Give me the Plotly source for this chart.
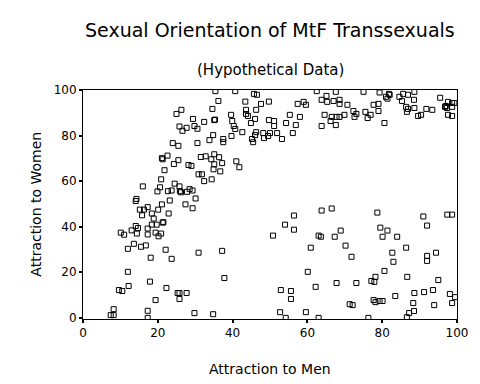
import plotly.graph_objects as go

title_text = "Sexual Orientation of MtF Transsexuals"
subtitle_text = "(Hypothetical Data)"
x_label = "Attraction to Men"
y_label = "Attraction to Women"
tick_vals = [0, 20, 40, 60, 80, 100]

attraction_to_men = [
    25.0, 26.3, 29.4, 32.4, 25.8, 27.7, 26.6, 29.8, 30.6, 24.0, 25.5, 30.6, 21.1, 21.3, 22.6, 25.5, 24.3, 31.5,
    28.2, 29.0, 21.8, 30.9, 31.8, 32.4, 20.9, 24.5, 25.8, 16.0, 20.6, 19.9, 22.7, 23.7, 25.9, 26.2, 27.8, 28.5,
    29.3, 14.3, 14.1, 30.1, 21.1, 23.2, 27.4,
    29.3, 15.2, 16.3, 17.3, 15.8, 18.4, 18.9, 20.1, 22.9, 14.1, 14.7, 17.3, 18.4, 19.7, 21.3, 21.5, 10.1, 11.0,
    13.0, 14.4, 17.3, 19.4, 20.2, 20.9, 12.0, 13.6, 15.5, 16.8, 22.1, 30.9, 18.1, 23.7, 12.0, 17.9, 12.2, 9.6,
    10.5, 22.3, 25.3, 25.8, 27.7, 25.8, 19.4, 8.2, 7.4, 8.2, 17.3, 17.3, 29.8,
    35.4, 40.7, 45.7, 46.5, 36.2, 43.4, 49.7, 47.6, 34.6, 43.6, 43.6, 46.3, 44.1, 39.6, 35.1, 35.3, 39.9, 40.3,
    40.7, 46.0, 44.9, 49.7, 51.1, 51.1, 42.6, 39.7, 34.8, 33.8, 37.5, 37.5, 46.3, 46.0, 48.2, 48.4, 49.5, 50.0,
    51.9, 53.2, 45.2, 45.5, 56.1, 54.3, 56.9, 55.3, 58.0, 57.4, 59.0, 59.6, 62.5, 63.8, 65.3, 65.1, 64.6, 63.8,
    35.1, 32.8, 34.3, 36.4, 35.1, 37.2, 41.0, 41.8, 34.9, 36.7, 34.4,
    67.6, 75.0, 79.3, 81.8, 82.0, 81.0, 81.4, 84.6, 85.6, 86.9, 85.3, 88.6, 88.5, 67.0, 68.6, 68.6, 70.7, 77.7,
    79.0, 79.0, 95.5, 97.6, 98.7, 99.3, 97.0, 97.3, 96.8, 98.7, 97.6, 98.7, 86.4, 86.9, 86.6, 88.6, 91.8, 93.4,
    89.6, 90.4, 80.6, 72.3, 73.1, 72.6, 75.5, 76.9, 76.1, 66.5, 67.8, 68.6, 69.9, 66.2, 67.6,
    37.2, 37.8, 34.8, 50.8, 54.0, 56.4, 56.4, 63.8, 63.0, 63.6, 60.9, 60.1, 62.2, 52.9, 55.6, 55.6, 52.7, 54.2,
    59.6, 63.0,
    66.5, 78.7, 91.0, 97.4, 98.7, 92.0, 68.9, 67.3, 79.5, 81.4, 80.1, 84.0, 70.2, 71.8, 82.7, 83.0, 86.4, 92.0,
    92.0, 94.4, 80.6, 67.8, 73.1, 77.1, 77.9, 78.2, 86.7, 95.0, 88.6, 91.2, 93.6, 98.1, 99.5, 83.5, 77.7, 78.2,
    79.3, 80.1, 71.3, 72.1, 88.3, 93.9, 98.7, 88.5, 87.2, 86.6, 76.3,
]

attraction_to_women = [
    89.5, 91.3, 87.3, 86.0, 84.0, 83.4, 82.1, 84.2, 83.0, 76.7, 75.5, 76.7, 70.1, 69.6, 71.2, 69.2, 67.5, 70.6,
    67.1, 66.7, 64.8, 63.0, 63.0, 60.0, 60.8, 58.9, 57.7, 57.7, 57.3, 55.5, 55.6, 55.9, 55.6, 55.1, 55.3, 56.5,
    55.9, 52.2, 51.3, 52.4, 49.8, 51.5, 49.8,
    48.1, 47.5, 47.5, 48.6, 45.0, 45.8, 43.6, 47.5, 45.8, 40.3, 39.4, 39.2, 40.9, 40.9, 41.8, 42.0, 37.4, 36.5,
    38.4, 37.0, 36.6, 37.4, 35.8, 37.0, 30.3, 32.5, 31.2, 31.8, 29.9, 28.6, 26.4, 25.9, 20.2, 15.9, 14.0, 12.2,
    11.8, 13.1, 10.9, 10.9, 10.9, 8.3, 7.8, 3.8, 1.2, 1.2, 3.1, 0.0, 2.1,
    99.5, 99.5, 98.3, 97.9, 95.2, 94.9, 94.9, 93.9, 91.7, 91.3, 89.5, 91.3, 88.6, 89.1, 86.8, 87.0, 86.4, 84.2,
    82.9, 87.3, 85.5, 86.8, 86.4, 84.2, 81.5, 79.8, 80.2, 78.0, 78.5, 77.1, 81.5, 80.2, 81.1, 78.9, 79.8, 81.1,
    81.1, 78.5, 78.5, 77.1, 81.1, 85.5, 84.6, 89.1, 88.2, 93.9, 94.8, 93.5, 99.5, 95.7, 94.8, 97.4, 89.1, 84.2,
    71.8, 70.9, 69.6, 70.5, 67.4, 67.9, 68.7, 66.1, 65.2, 64.3, 60.8,
    99.2, 99.2, 98.9, 98.3, 97.9, 97.0, 96.2, 97.0, 98.3, 97.9, 95.2, 99.2, 95.7, 95.2, 95.7, 93.9, 93.5, 93.5,
    93.9, 90.8, 96.6, 94.8, 94.3, 94.3, 93.0, 92.1, 92.6, 92.6, 89.1, 88.6, 92.6, 91.7, 90.4, 92.1, 91.7, 91.3,
    88.6, 89.1, 85.5, 90.8, 89.5, 88.2, 90.4, 89.1, 87.7, 88.2, 88.2, 88.2, 89.1, 86.4, 84.6,
    29.4, 17.5, 1.6, 36.1, 40.9, 44.9, 38.7, 47.1, 36.1, 35.6, 30.8, 20.2, 13.6, 12.2, 11.8, 8.3, 2.5, 0.0,
    2.5, 0.0,
    48.0, 46.2, 44.5, 45.3, 45.3, 40.5, 38.3, 35.6, 39.6, 38.3, 35.6, 35.6, 31.7, 26.8, 28.6, 24.6, 30.8, 27.2,
    25.0, 28.6, 20.6, 15.3, 15.3, 16.2, 15.8, 18.0, 18.0, 16.6, 10.9, 11.3, 12.2, 10.5, 9.1, 9.6, 7.8, 6.9,
    7.4, 7.4, 6.0, 5.6, 6.5, 5.6, 6.5, 3.0, 2.1, 0.3, 0.0,
]

FONT = "DejaVu Sans"

fig = go.Figure()
fig.add_trace(go.Scatter(
    x=attraction_to_men,
    y=attraction_to_women,
    mode="markers",
    marker=dict(symbol="square-open", size=5, color="black", line=dict(width=1, color="black")),
    showlegend=False,
    hoverinfo="skip",
))

fig.update_layout(
    width=472,
    height=376,
    margin=dict(l=75, r=21, t=82, b=65),
    paper_bgcolor="white",
    plot_bgcolor="white",
    font=dict(family=FONT, color="black", size=12),
    xaxis=dict(
        range=[0, 100], tickvals=tick_vals, showgrid=False, zeroline=False,
        showline=True, linecolor="black", linewidth=1, mirror=True,
        ticks="outside", ticklen=3, tickwidth=2, tickcolor="black",
        tickfont=dict(family=FONT, size=12, color="black"),
    ),
    yaxis=dict(
        range=[-0.5, 100], tickvals=tick_vals, showgrid=False, zeroline=False,
        showline=True, linecolor="black", linewidth=1, mirror=True,
        ticks="outside", ticklen=3, tickwidth=2, tickcolor="black",
        tickfont=dict(family=FONT, size=12, color="black"),
    ),
    annotations=[
        dict(text=title_text, xref="paper", yref="paper", x=0.5, y=1.262,
             xanchor="center", yanchor="middle", showarrow=False,
             font=dict(family=FONT, size=19, color="black")),
        dict(text=subtitle_text, xref="paper", yref="paper", x=0.5, y=1.087,
             xanchor="center", yanchor="middle", showarrow=False,
             font=dict(family=FONT, size=15, color="black")),
        dict(text=x_label, xref="paper", yref="paper", x=0.5, y=-0.218,
             xanchor="center", yanchor="middle", showarrow=False,
             font=dict(family=FONT, size=14, color="black")),
        dict(text=y_label, xref="paper", yref="paper", x=-0.128, y=0.5,
             xanchor="center", yanchor="middle", showarrow=False, textangle=-90,
             font=dict(family=FONT, size=14, color="black")),
    ],
)

fig.write_html("out.html")
